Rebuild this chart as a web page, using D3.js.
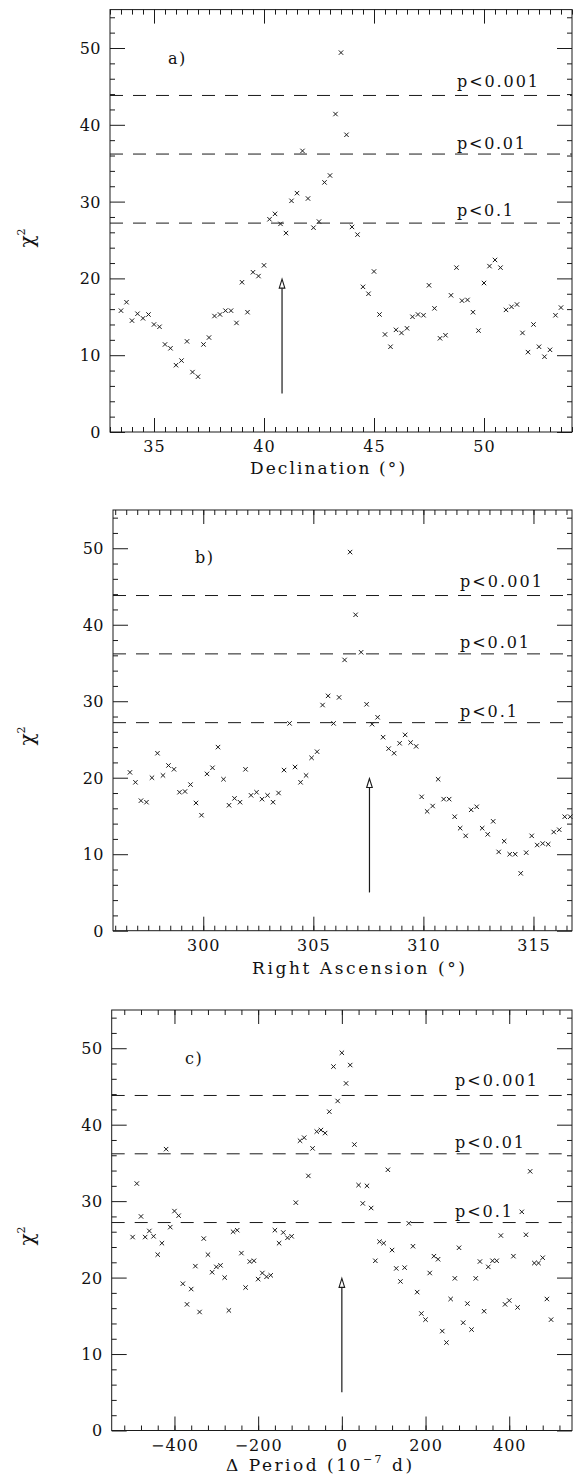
<!DOCTYPE html>
<html>
<head>
<meta charset="utf-8">
<script src="https://cdn.jsdelivr.net/npm/d3@7"></script>
<style>
  body { margin: 0; background: #fff; }
  svg { display: block; }
  text { font-family: "DejaVu Serif", serif; fill: #111; }
</style>
</head>
<body>
<svg id="chart" width="573" height="1479"></svg>
<script>
// --- data ---
const declX = [33.5, 33.75, 34, 34.25, 34.5, 34.75, 35, 35.25, 35.5, 35.75,
  36, 36.25, 36.5, 36.75, 37, 37.25, 37.5, 37.75, 38, 38.25,
  38.5, 38.75, 39, 39.25, 39.5, 39.75, 40, 40.25, 40.5, 40.75,
  41, 41.25, 41.5, 41.75, 42, 42.25, 42.5, 42.75, 43, 43.25,
  43.5, 43.75, 44, 44.25, 44.5, 44.75, 45, 45.25, 45.5, 45.75,
  46, 46.25, 46.5, 46.75, 47, 47.25, 47.5, 47.75, 48, 48.25,
  48.5, 48.75, 49, 49.25, 49.5, 49.75, 50, 50.25, 50.5, 50.75,
  51, 51.25, 51.5, 51.75, 52, 52.25, 52.5, 52.75, 53, 53.25, 53.5];
const declChi = [15.8, 16.9, 14.5, 15.4, 14.8, 15.3, 14.0, 13.7, 11.4, 10.9,
  8.7, 9.3, 11.8, 7.8, 7.2, 11.4, 12.3, 15.1, 15.3, 15.8,
  15.8, 14.2, 19.5, 15.6, 20.8, 20.3, 21.7, 27.7, 28.4, 27.1,
  25.9, 30.1, 31.1, 36.6, 30.4, 26.6, 27.4, 32.5, 33.4, 41.4,
  49.4, 38.7, 26.7, 25.7, 18.9, 18.0, 20.9, 15.3, 12.7, 11.1,
  13.3, 12.9, 13.5, 15.0, 15.3, 15.2, 19.1, 16.1, 12.2, 12.6,
  17.8, 21.4, 17.1, 17.2, 15.6, 13.2, 19.4, 21.6, 22.4, 21.4,
  15.9, 16.3, 16.6, 12.9, 10.4, 14.0, 11.1, 9.8, 10.7, 15.2, 16.2];

const raX = [296.67, 296.92, 297.17, 297.42, 297.67, 297.92, 298.17, 298.42, 298.67, 298.92,
  299.17, 299.42, 299.67, 299.92, 300.17, 300.42, 300.67, 300.92, 301.17, 301.42,
  301.67, 301.92, 302.17, 302.42, 302.67, 302.92, 303.17, 303.42, 303.67, 303.92,
  304.17, 304.42, 304.67, 304.92, 305.17, 305.42, 305.67, 305.92, 306.17, 306.42,
  306.67, 306.92, 307.17, 307.42, 307.67, 307.92, 308.17, 308.42, 308.67, 308.92,
  309.17, 309.42, 309.67, 309.92, 310.17, 310.42, 310.67, 310.92, 311.17, 311.42,
  311.67, 311.92, 312.17, 312.42, 312.67, 312.92, 313.17, 313.42, 313.67, 313.92,
  314.17, 314.42, 314.67, 314.92, 315.17, 315.42, 315.67, 315.92, 316.17, 316.42, 316.67];
const raChi = [20.7, 19.4, 17.0, 16.8, 20.0, 23.2, 20.3, 21.6, 21.1, 18.1,
  18.2, 19.1, 16.7, 15.1, 20.5, 21.3, 24.0, 19.8, 16.4, 17.3,
  16.8, 21.1, 17.7, 18.1, 17.2, 17.7, 16.8, 18.0, 21.0, 27.1,
  21.4, 19.4, 20.3, 22.6, 23.4, 29.5, 30.7, 27.1, 30.5, 35.4,
  49.5, 41.3, 36.4, 29.6, 27.0, 27.9, 25.3, 23.8, 23.2, 24.5,
  25.6, 24.6, 24.1, 17.5, 15.6, 16.3, 19.8, 17.2, 17.2, 14.9,
  13.4, 12.4, 15.8, 16.2, 13.4, 12.6, 14.3, 10.3, 11.7, 10.0,
  10.0, 7.5, 10.2, 12.4, 11.2, 11.4, 11.3, 12.9, 13.2, 14.9, 14.9];

const periodX = [-500, -490, -480, -470, -460, -450, -440, -430, -420, -410,
  -400, -390, -380, -370, -360, -350, -340, -330, -320, -310,
  -300, -290, -280, -270, -260, -250, -240, -230, -220, -210,
  -200, -190, -180, -170, -160, -150, -140, -130, -120, -110,
  -100, -90, -80, -70, -60, -50, -40, -30, -20, -10,
  0, 10, 20, 30, 40, 50, 60, 70, 80, 90,
  100, 110, 120, 130, 140, 150, 160, 170, 180, 190,
  200, 210, 220, 230, 240, 250, 260, 270, 280, 290,
  300, 310, 320, 330, 340, 350, 360, 370, 380, 390,
  400, 410, 420, 430, 440, 450, 460, 470, 480, 490, 500];
const periodChi = [25.3, 32.3, 28.0, 25.3, 26.1, 25.4, 23.0, 24.5, 36.8, 26.6,
  28.7, 28.1, 19.2, 16.5, 18.5, 21.5, 15.5, 25.1, 23.0, 20.7,
  21.4, 21.6, 20.0, 15.7, 26.0, 26.2, 23.2, 18.7, 22.1, 22.2,
  19.8, 20.6, 20.1, 20.3, 26.2, 24.5, 25.9, 25.2, 25.4, 29.8,
  37.9, 38.3, 33.3, 36.9, 39.1, 39.3, 38.9, 41.7, 47.6, 43.1,
  49.4, 45.4, 47.8, 37.4, 32.1, 29.7, 32.0, 29.1, 22.2, 24.7,
  24.5, 34.1, 23.6, 21.2, 19.5, 21.3, 27.1, 24.1, 18.1, 15.3,
  14.5, 20.6, 22.8, 22.4, 13.0, 11.5, 17.2, 19.9, 23.9, 14.1,
  16.6, 13.2, 19.9, 22.1, 15.6, 21.4, 22.2, 22.2, 25.5, 16.5,
  17.0, 22.8, 16.1, 28.6, 25.6, 33.9, 21.9, 21.9, 22.6, 17.2, 14.5];

// chi-square thresholds (19 dof)
const thresholds = [43.82, 36.19, 27.20];
const thresholdLabels = ['p<0.001', 'p<0.01', 'p<0.1'];

const yTicks = [0, 10, 20, 30, 40, 50];
const declTicks = [35, 40, 45, 50];
const raTicks = [300, 305, 310, 315];
const periodTicks = [-400, -200, 0, 200, 400];
const periodTickLabels = ['\u2212400', '\u2212200', '0', '200', '400'];

// signal positions marked with arrows
const arrowAt = [40.82, 307.55, 0];
const arrowFrom = 5, arrowTo = 19.9;

// --- layout ---
const svg = d3.select('#chart');

const panels = [
  { xs: declX, ys: declChi, domain: [33, 54], left: 110, right: 572, top: 9.6, bottom: 432,
    major: declTicks, labels: declTicks.map(String), minor: d3.range(33, 54.01, 0.5),
    letter: 'a)', letterXY: [168, 64], arrow: arrowAt[0],
    title: 'Declination (\u00b0)', titleX: 250, titleY: 474, titleW: 155,
    pX: 457, pW: [81, 68, 56], pOff: [8, 5, 7], yLab: 238 },
  { xs: raX, ys: raChi, domain: [295.9, 316.75], left: 113, right: 572, top: 510, bottom: 930.7,
    major: raTicks, labels: raTicks.map(String), minor: d3.range(296, 316.51, 0.5),
    letter: 'b)', letterXY: [195, 563], arrow: arrowAt[1],
    title: 'Right Ascension (\u00b0)', titleX: 252, titleY: 974, titleW: 213,
    pX: 460, pW: [82, 69, 57], pOff: [9, 6, 6], yLab: 736 },
  { xs: periodX, ys: periodChi, domain: [-550, 550], left: 111.7, right: 572, top: 1010, bottom: 1430.5,
    major: periodTicks, labels: periodTickLabels, minor: d3.range(-520, 521, 40),
    letter: 'c)', letterXY: [185, 1064], arrow: arrowAt[2],
    title: null, titleX: 226, titleY: 1471, titleW: 186,
    pX: 455, pW: [82, 69, 57], pOff: [9, 6, 6], yLab: 1236 }
];

function spread(t, w) {
  const n = t.text().length;
  const cur = t.node().getComputedTextLength();
  t.attr('letter-spacing', ((w - cur) / (n - 1)).toFixed(2));
}

const ink = '#1a1a1a';

panels.forEach(p => {
  const x = d3.scaleLinear().domain(p.domain).range([p.left, p.right]);
  const y = d3.scaleLinear().domain([0, 55]).range([p.bottom, p.top]);
  const g = svg.append('g');
  const w = p.right - p.left, h = p.bottom - p.top;
  const yMinor = d3.range(2, 55, 2).filter(v => v % 10 !== 0);

  // ticks on all four sides, pointing inward
  const addAxis = (axis, tx, ty) => {
    const a = g.append('g').attr('transform', `translate(${tx},${ty})`).call(axis);
    a.select('.domain').remove();
    a.selectAll('line').attr('stroke', ink).attr('stroke-width', 1);
    return a;
  };
  addAxis(d3.axisBottom(x).tickValues(p.minor).tickSize(-5).tickFormat(''), 0, p.bottom);
  addAxis(d3.axisTop(x).tickValues(p.minor).tickSize(-5).tickFormat(''), 0, p.top);
  addAxis(d3.axisTop(x).tickValues(p.major).tickSize(-14).tickFormat(''), 0, p.top);
  addAxis(d3.axisLeft(y).tickValues(yMinor).tickSize(-5).tickFormat(''), p.left, 0);
  addAxis(d3.axisRight(y).tickValues(yMinor).tickSize(-5).tickFormat(''), p.right, 0);
  addAxis(d3.axisRight(y).tickValues(yTicks).tickSize(-15).tickFormat(''), p.right, 0);

  const xb = addAxis(d3.axisBottom(x).tickValues(p.major).tickSize(-14)
    .tickFormat((d, i) => p.labels[i]), 0, p.bottom);
  xb.selectAll('text').attr('y', 20).attr('dy', 0)
    .style('font-family', '"DejaVu Serif", serif').attr('font-size', 16)
    .attr('fill', ink).attr('letter-spacing', 1);

  const yl = addAxis(d3.axisLeft(y).tickValues(yTicks).tickSize(-15), p.left, 0);
  yl.selectAll('text').attr('x', -9).attr('dy', '0.34em')
    .style('font-family', '"DejaVu Serif", serif').attr('font-size', 16)
    .attr('fill', ink).attr('letter-spacing', 0.5);

  g.append('rect').attr('x', p.left).attr('y', p.top).attr('width', w).attr('height', h)
    .attr('fill', 'none').attr('stroke', ink).attr('stroke-width', 1);

  // significance levels
  thresholds.forEach((v, i) => {
    g.append('line').attr('x1', p.left).attr('x2', p.right)
      .attr('y1', y(v)).attr('y2', y(v))
      .attr('stroke', ink).attr('stroke-width', 1).attr('stroke-dasharray', '13,10');
    const t = g.append('text').attr('x', p.pX).attr('y', y(v) - p.pOff[i])
      .attr('font-size', 16).text(thresholdLabels[i]);
    spread(t, p.pW[i]);
  });

  // crosses
  g.selectAll('path.pt').data(p.xs.map((v, i) => [v, p.ys[i]])).enter()
    .append('path').attr('class', 'pt')
    .attr('transform', d => `translate(${x(d[0])},${y(d[1])})`)
    .attr('d', 'M-2.2,-2.2L2.2,2.2M-2.2,2.2L2.2,-2.2')
    .attr('stroke', ink).attr('stroke-width', 1);

  // arrow
  const ax = x(p.arrow), tip = y(arrowTo);
  g.append('line').attr('x1', ax).attr('x2', ax).attr('y1', y(arrowFrom)).attr('y2', tip + 8)
    .attr('stroke', ink).attr('stroke-width', 1.2);
  g.append('path').attr('d', `M${ax},${tip}L${ax - 2.8},${tip + 9}L${ax + 2.8},${tip + 9}Z`)
    .attr('fill', '#fff').attr('stroke', ink).attr('stroke-width', 1.1);

  // panel letter
  g.append('text').attr('x', p.letterXY[0]).attr('y', p.letterXY[1])
    .attr('font-size', 16).attr('letter-spacing', 1.5).text(p.letter);

  // axis titles
  let tt;
  if (p.title) {
    tt = g.append('text').attr('x', p.titleX).attr('y', p.titleY).attr('font-size', 17).text(p.title);
  } else {
    tt = g.append('text').attr('x', p.titleX).attr('y', p.titleY).attr('font-size', 17);
    tt.append('tspan').text('\u0394 Period (10');
    tt.append('tspan').attr('font-size', 11).attr('dy', -8).text('\u22127');
    tt.append('tspan').attr('dy', 8).text(' d)');
  }
  spread(tt, p.titleW);

  const yt = g.append('text').attr('transform', `translate(34,${p.yLab}) rotate(-90)`)
    .attr('text-anchor', 'middle').attr('font-size', 20);
  yt.append('tspan').text('\u03c7');
  yt.append('tspan').attr('font-size', 11).attr('dy', -9).text('2');
});
</script>
</body>
</html>
